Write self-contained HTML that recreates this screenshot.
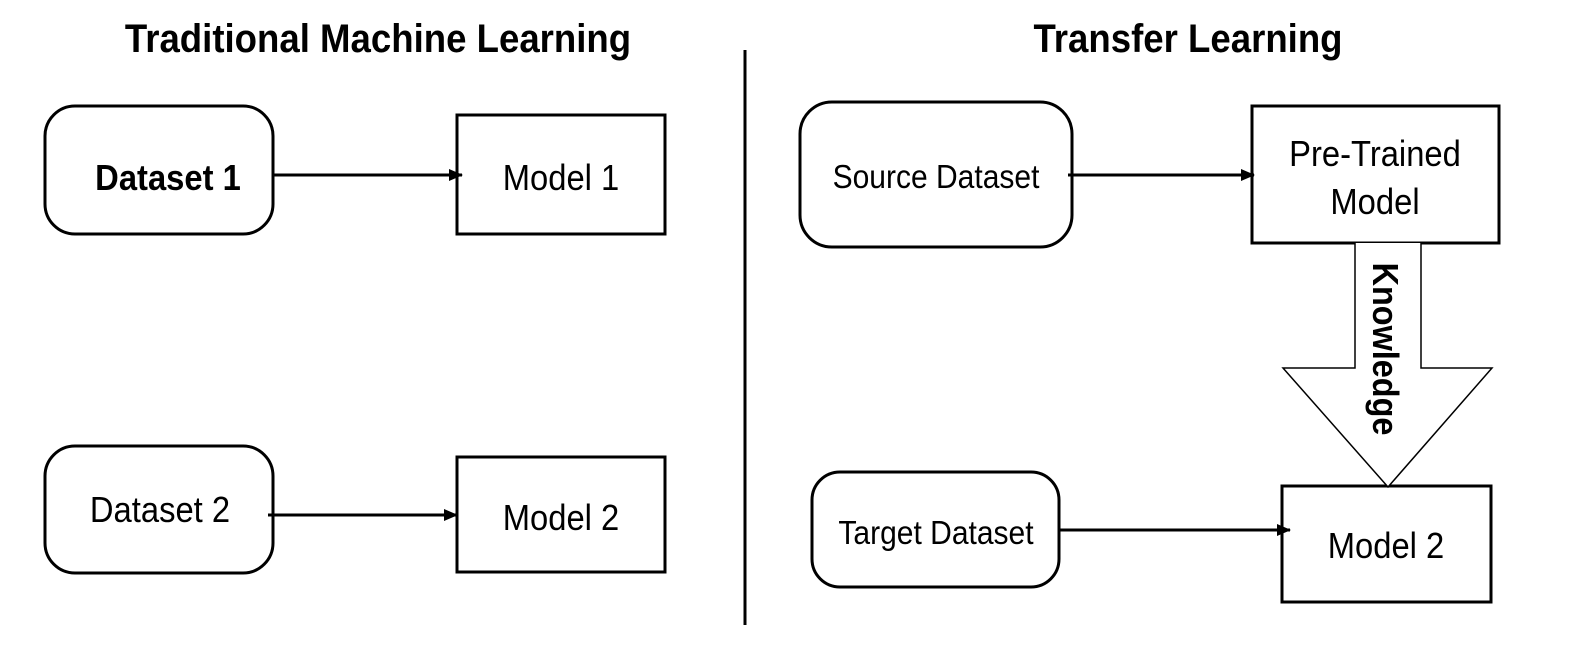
<!DOCTYPE html>
<html><head><style>body{margin:0;background:#fff}svg{display:block}</style></head><body>
<svg width="1570" height="652" viewBox="0 0 1570 652" xmlns="http://www.w3.org/2000/svg" font-family="Liberation Sans, Arial, sans-serif">
<defs><marker id="a" markerWidth="14" markerHeight="14" refX="13" refY="7" orient="auto" markerUnits="userSpaceOnUse"><path d="M0,1 L14,7 L0,13 z" fill="#000"/></marker></defs>
<g fill="none" stroke="#000" stroke-width="3">
<rect x="45" y="106" width="228" height="128" rx="30"/>
<rect x="457" y="115" width="208" height="119"/>
<rect x="45" y="446" width="228" height="127" rx="30"/>
<rect x="457" y="457" width="208" height="115"/>
<rect x="800" y="102" width="272" height="145" rx="32"/>
<rect x="1252" y="106" width="247" height="137"/>
<rect x="812" y="472" width="247" height="115" rx="28"/>
<rect x="1282" y="486" width="209" height="116"/>
<line x1="273" y1="175" x2="462" y2="175" marker-end="url(#a)"/>
<line x1="268" y1="515" x2="457" y2="515" marker-end="url(#a)"/>
<line x1="1068" y1="175" x2="1254" y2="175" marker-end="url(#a)"/>
<line x1="1059" y1="530" x2="1290" y2="530" marker-end="url(#a)"/>
<line x1="745" y1="50" x2="745" y2="625"/>
</g>
<path d="M1355,243 L1355,368 L1283,368 L1388,487 L1492,368 L1421,368 L1421,243" fill="#fff" stroke="#000" stroke-width="1.5"/>
<g text-anchor="middle" fill="#000">
<text transform="translate(378,52) scale(0.915,1)" font-size="40" font-weight="bold">Traditional Machine Learning</text>
<text transform="translate(1188,52) scale(0.915,1)" font-size="40" font-weight="bold">Transfer Learning</text>
<text transform="translate(168,190) scale(0.91,1)" font-size="36" font-weight="bold">Dataset 1</text>
<text transform="translate(561,190) scale(0.91,1)" font-size="36">Model 1</text>
<text transform="translate(160,522) scale(0.91,1)" font-size="36">Dataset 2</text>
<text transform="translate(561,530) scale(0.91,1)" font-size="36">Model 2</text>
<text transform="translate(936,188) scale(0.91,1)" font-size="33">Source Dataset</text>
<text transform="translate(1375,166) scale(0.91,1)" font-size="36">Pre-Trained</text>
<text transform="translate(1375,214) scale(0.91,1)" font-size="36">Model</text>
<text transform="translate(936,544) scale(0.91,1)" font-size="33">Target Dataset</text>
<text transform="translate(1386,558) scale(0.91,1)" font-size="36">Model 2</text>
<text transform="translate(1373,349) rotate(90) scale(0.9,1)" font-size="36" font-weight="bold">Knowledge</text>
</g>
</svg>
</body></html>
